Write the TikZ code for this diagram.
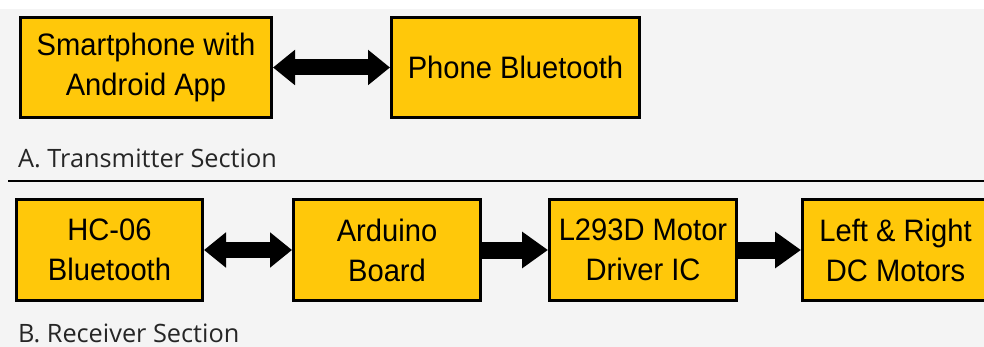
\documentclass[tikz,border=0pt]{standalone}
\usepackage{fontspec}
\usetikzlibrary{arrows.meta}
\newfontfamily\boxfont[FakeStretch=0.94]{Liberation Sans}
\newfontfamily\labfont{Open Sans}
\definecolor{boxfill}{HTML}{FFC80A}
\definecolor{bgc}{HTML}{F4F4F4}
\definecolor{labc}{HTML}{262626}
\tikzset{
  blockbox/.style={draw=black, line width=3pt, fill=boxfill, rectangle,
    minimum height=100pt, align=center, inner sep=0pt,
    font=\boxfont\fontsize{31}{40}\selectfont},
  dblarrow/.style={line width=16pt, {Triangle[length=22pt,width=34pt]}-{Triangle[length=22pt,width=34pt]}},
  onearrow/.style={line width=17pt, -{Triangle[length=26pt,width=35pt]}},
  seclabel/.style={anchor=base west, inner sep=0pt, text=labc,
    font=\labfont\fontsize{25.3}{30}\selectfont}
}
\begin{document}
\begin{tikzpicture}[x=1pt,y=-1pt]
\useasboundingbox (0,0) rectangle (984,347);
\fill[white] (0,0) rectangle (984,347);
\fill[bgc] (0,9) rectangle (984,347);
% transmitter
\node[blockbox, minimum width=251pt] (phone) at (146,67.5) {Smartphone with\\Android App};
\node[blockbox, minimum width=248pt] (pbt) at (515.5,67.5) {Phone Bluetooth};
\draw[dblarrow] (phone.east) -- (pbt.west);
\node[seclabel] (labA) at (18,168) {A. Transmitter Section};
\draw[line width=2.5pt] (8,181) -- (984,181);
% receiver
\node[blockbox, minimum width=186pt] (hc) at (109.5,250) {HC-06\\Bluetooth};
\node[blockbox, minimum width=187pt] (ard) at (387,250) {Arduino\\Board};
\node[blockbox, minimum width=187pt] (drv) at (643,250) {L293D Motor\\Driver IC};
\node[blockbox, minimum width=186pt] (mot) at (895.5,250) {Left \& Right\\DC Motors};
\draw[dblarrow] (hc.east) -- (ard.west);
\draw[onearrow] (ard.east) -- (drv.west);
\draw[onearrow] (drv.east) -- (mot.west);
\node[seclabel] (labB) at (18,342) {B. Receiver Section};
\end{tikzpicture}
\end{document}
